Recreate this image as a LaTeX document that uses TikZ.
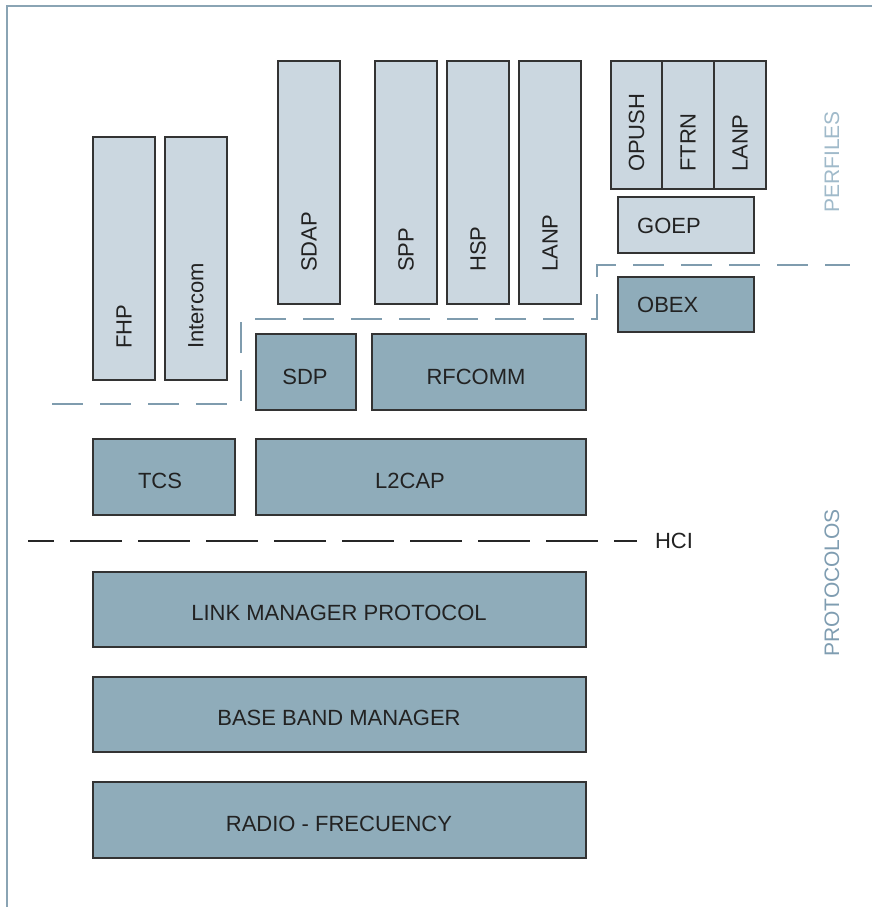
\documentclass[tikz,border=0pt]{standalone}
\usepackage{fontspec}
\setmainfont{Liberation Sans}
\definecolor{lightfill}{HTML}{CBD7E0}
\definecolor{darkfill}{HTML}{8FACBA}
\definecolor{edgecol}{HTML}{333333}
\definecolor{sepblue}{HTML}{7F9CAE}
\definecolor{perf}{HTML}{A0BACA}
\definecolor{prot}{HTML}{7F9DB1}
\definecolor{txt}{HTML}{222222}
\definecolor{framecol}{HTML}{8AA4B4}
\tikzset{
  lbox/.style={draw=edgecol, fill=lightfill, line width=1.2pt, anchor=north west, inner sep=0pt, outer sep=0pt},
  dbox/.style={draw=edgecol, fill=darkfill, line width=1.2pt, anchor=north west, inner sep=0pt, outer sep=0pt},
  lbl/.style={text=txt, font=\fontsize{22}{26}\selectfont, inner sep=0pt},
  vlbl/.style={lbl, rotate=90, anchor=west},
  side/.style={font=\fontsize{21}{25}\selectfont, inner sep=0pt, rotate=90},
  sepline/.style={draw=sepblue, line width=1.5pt, dash pattern=on 31pt off 17pt},
  hciline/.style={draw=black!85, line width=2pt, dash pattern=on 52pt off 16pt, dash phase=26pt},
  framestyle/.style={draw=framecol, line width=1.5pt}
}
\begin{document}
\begin{tikzpicture}[x=1pt, y=-1pt]
\useasboundingbox (0,0) rectangle (872,907);
% frame
\draw[framestyle] (7,907) -- (7,6) -- (872,6);

% profile boxes
\node[lbox, minimum width=62pt, minimum height=243pt] (fhp) at (93,137) {};
\node[lbox, minimum width=62pt, minimum height=243pt] (intercom) at (165,137) {};
\node[lbox, minimum width=62pt, minimum height=243pt] (sdap) at (278,61) {};
\node[lbox, minimum width=62pt, minimum height=243pt] (spp) at (375,61) {};
\node[lbox, minimum width=62pt, minimum height=243pt] (hsp) at (447,61) {};
\node[lbox, minimum width=62pt, minimum height=243pt] (lanp) at (519,61) {};
\node[lbox, minimum width=51pt, minimum height=128pt] (opush) at (611,61) {};
\node[lbox, minimum width=52pt, minimum height=128pt] (ftrn) at (662,61) {};
\node[lbox, minimum width=52pt, minimum height=128pt] (lanp2) at (714,61) {};
\node[lbox, minimum width=136pt, minimum height=56pt] (goep) at (618,197) {};

% protocol boxes
\node[dbox, minimum width=136pt, minimum height=55pt] (obex) at (618,277) {};
\node[dbox, minimum width=100pt, minimum height=76pt] (sdp) at (256,334) {};
\node[dbox, minimum width=214pt, minimum height=76pt] (rfcomm) at (372,334) {};
\node[dbox, minimum width=142pt, minimum height=76pt] (tcs) at (93,439) {};
\node[dbox, minimum width=330pt, minimum height=76pt] (l2cap) at (256,439) {};
\node[dbox, minimum width=493pt, minimum height=75pt] (lmp) at (93,572) {};
\node[dbox, minimum width=493pt, minimum height=75pt] (bbm) at (93,677) {};
\node[dbox, minimum width=493pt, minimum height=76pt] (rf) at (93,782) {};

% vertical labels
\node[vlbl] (tfhp) at (124,349) {FHP};
\node[vlbl] (tintercom) at (196,349) {Intercom};
\node[vlbl] (tsdap) at (309,272) {SDAP};
\node[vlbl] (tspp) at (406,272) {SPP};
\node[vlbl] (thsp) at (478,272) {HSP};
\node[vlbl] (tlanp) at (550,272) {LANP};
\node[vlbl] (topush) at (636.5,172) {OPUSH};
\node[vlbl] (tftrn) at (688,172) {FTRN};
\node[vlbl] (tlanp2) at (740,172) {LANP};

% horizontal labels
\node[lbl, anchor=west] (tgoep) at (637,226) {GOEP};
\node[lbl, anchor=west] (tobex) at (637,305) {OBEX};
\node[lbl] (tsdp) at (305,377) {SDP};
\node[lbl] (trfcomm) at (476,377) {RFCOMM};
\node[lbl] (ttcs) at (160,481) {TCS};
\node[lbl] (tl2cap) at (410,481) {L2CAP};
\node[lbl] (tlmp) at (339,613) {LINK MANAGER PROTOCOL};
\node[lbl] (tbbm) at (339,718) {BASE BAND MANAGER};
\node[lbl] (trf) at (339,824) {RADIO - FRECUENCY};

% separators
\draw[sepline] (52,404) -- (241,404) -- (241,319) -- (597,319) -- (597,265) -- (850,265);
\draw[hciline] (28,541) -- (637,541);
\node[lbl] (hci) at (674,541) {HCI};

% side labels
\node[side, text=perf] (perfiles) at (832,162) {PERFILES};
\node[side, text=prot] (protocolos) at (832,583) {PROTOCOLOS};
\end{tikzpicture}
\end{document}
